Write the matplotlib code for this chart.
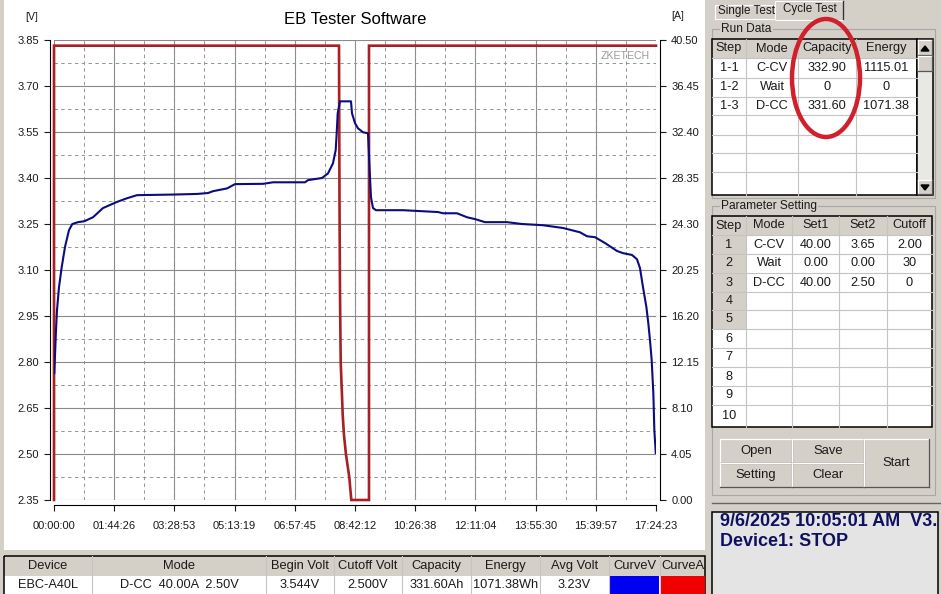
import matplotlib
matplotlib.use("Agg")
import matplotlib.pyplot as plt
from matplotlib.patches import Rectangle, Ellipse
from matplotlib.ticker import AutoMinorLocator

# voltage curve (seconds, volts)
volt_time = [31, 208, 312, 520, 801, 1145, 1561, 1905, 2498, 3154, 4060, 5100, 6558, 7599, 8639,
             12387, 14885, 16030, 16550, 18008, 18840, 21755, 22796, 26127, 26439, 27896, 28521,
             29041, 29322, 29426, 29530, 29770, 30915, 31019, 31331, 31643, 32164, 32684,
             32892, 32996, 33205, 33517, 36327, 39971, 40491, 41948, 42989, 43822, 44863, 47153,
             48714, 50900, 52982, 54751, 55480, 56313, 57353, 58603, 59227, 60164, 60684, 60997,
             61309, 61663, 61861, 62038, 62214, 62385, 62489, 62640]
volt_vals = [2.764, 2.904, 2.969, 3.044, 3.109, 3.175, 3.230, 3.250, 3.256, 3.259, 3.272, 3.302, 3.322, 3.334, 3.344,
             3.346, 3.348, 3.351, 3.357, 3.366, 3.380, 3.381, 3.386, 3.386, 3.393, 3.400, 3.415,
             3.448, 3.491, 3.546, 3.611, 3.650, 3.650, 3.611, 3.579, 3.562, 3.549, 3.546,
             3.403, 3.337, 3.302, 3.295, 3.295, 3.289, 3.285, 3.285, 3.272, 3.266, 3.256, 3.256,
             3.250, 3.246, 3.237, 3.223, 3.210, 3.207, 3.188, 3.162, 3.155, 3.149, 3.135, 3.106,
             3.044, 2.979, 2.927, 2.871, 2.806, 2.699, 2.578, 2.503]

# current curve (seconds, amps)
amp_time = [0, 0, 29666, 29718, 29770, 29843, 29978, 30051, 30186, 30394, 30738, 30946, 32788, 32788, 62663]
amp_vals = [0, 40.0, 40.0, 26.2, 18.2, 12.1, 9.2, 7.5, 5.7, 4.0, 2.0, 0, 0, 40.0, 40.0]

time_labels = ["00:00:00", "01:44:26", "03:28:53", "05:13:19", "06:57:45", "08:42:12",
               "10:26:38", "12:11:04", "13:55:30", "15:39:57", "17:24:23"]
volt_ticks = [2.35, 2.50, 2.65, 2.80, 2.95, 3.10, 3.25, 3.40, 3.55, 3.70, 3.85]
amp_ticks = [0.00, 4.05, 8.10, 12.15, 16.20, 20.25, 24.30, 28.35, 32.40, 36.45, 40.50]

run_header = ["Step", "Mode", "Capacity", "Energy"]
run_rows = [["1-1", "C-CV", "332.90", "1115.01"],
            ["1-2", "Wait", "0", "0"],
            ["1-3", "D-CC", "331.60", "1071.38"]]

param_header = ["Step", "Mode", "Set1", "Set2", "Cutoff"]
param_rows = [["1", "C-CV", "40.00", "3.65", "2.00"],
              ["2", "Wait", "0.00", "0.00", "30"],
              ["3", "D-CC", "40.00", "2.50", "0"],
              ["4"], ["5"], ["6"], ["7"], ["8"], ["9"], ["10"]]

info_header = ["Device", "Mode", "Begin Volt", "Cutoff Volt", "Capacity", "Energy", "Avg Volt", "CurveV", "CurveA"]
info_row = ["EBC-A40L", "D-CC  40.00A  2.50V", "3.544V", "2.500V", "331.60Ah", "1071.38Wh", "3.23V"]

GREY = "#d4d0c8"
CELL = "#c4c4c4"
INK = "#1a1a1a"

plt.rcParams["font.family"] = ["Liberation Sans", "DejaVu Sans"]
plt.rcParams["font.size"] = 8


def px_axes(fig, left, top, right, bottom):
    return fig.add_axes([left / 941, 1 - bottom / 594, (right - left) / 941, (bottom - top) / 594])


def box(ui, x0, y0, x1, y1, face="none", edge="none", lw=0.8, **kw):
    ui.add_patch(Rectangle((x0, y0), x1 - x0, y1 - y0, facecolor=face, edgecolor=edge, linewidth=lw, **kw))


def label(ui, x, y, s, size=9.2, color=INK, ha="center", **kw):
    return ui.text(x, y, s, fontsize=size, color=color, ha=ha, va="center", **kw)


def draw_table(ui, cols, rows_y, header, rows, grey_first=0):
    box(ui, cols[0], rows_y[0], cols[-1], rows_y[-1], face="white")
    box(ui, cols[0], rows_y[0], cols[-1], rows_y[1], face=GREY)
    if grey_first:
        box(ui, cols[0], rows_y[1], cols[1], rows_y[grey_first + 1], face=GREY)
    for x in cols[1:-1]:
        ui.plot([x, x], [rows_y[0], rows_y[-1]], color=CELL, lw=0.8)
    for y in rows_y[1:-1]:
        ui.plot([cols[0], cols[-1]], [y, y], color=CELL, lw=0.8)
    for i, s in enumerate(header):
        label(ui, (cols[i] + cols[i + 1]) / 2, (rows_y[0] + rows_y[1]) / 2, s)
    for r, row in enumerate(rows):
        for i, s in enumerate(row):
            label(ui, (cols[i] + cols[i + 1]) / 2, (rows_y[r + 1] + rows_y[r + 2]) / 2, s)
    box(ui, cols[0], rows_y[0], cols[-1], rows_y[-1], edge="black", lw=1.1)


def button(ui, x0, y0, x1, y1, s):
    box(ui, x0, y0, x1, y1, face=GREY)
    ui.plot([x0, x1], [y0, y0], color="white", lw=0.9)
    ui.plot([x0, x0], [y0, y1], color="white", lw=0.9)
    ui.plot([x0, x1], [y1, y1], color="#555555", lw=0.9)
    ui.plot([x1, x1], [y0, y1], color="#555555", lw=0.9)
    label(ui, (x0 + x1) / 2, (y0 + y1) / 2, s, size=9.4)


def group(ui, x0, y0, x1, y1, s):
    box(ui, x0, y0, x1, y1, edge="#a8a8a8", lw=0.8)
    t = ui.text(x0 + 9, y0, s, fontsize=8.6, color=INK, ha="left", va="center")
    t.set_bbox(dict(facecolor=GREY, edgecolor="none", pad=1))


fig = plt.figure(figsize=(9.41, 5.94), dpi=100, facecolor=GREY)

# window furniture behind the plot
ui = fig.add_axes([0, 0, 1, 1])
ui.set_xlim(0, 941)
ui.set_ylim(594, 0)
ui.axis("off")
box(ui, 4, 0, 705, 550, face="white")

label(ui, 355, 20, "EB Tester Software", size=12, color="black")
label(ui, 32, 17, "[V]", size=7.6)
label(ui, 678, 16, "[A]", size=7.6)
label(ui, 650, 56, "ZKETECH", size=7.6, color="#9a9a9a", ha="right")

# tabs
box(ui, 715, 5, 775, 19, face=GREY, edge="#ffffff")
label(ui, 747, 11, "Single Test", size=8.4)
box(ui, 775, 1, 843, 20, face=GREY, edge="#ffffff")
ui.plot([843, 843], [1, 19], color="#333333", lw=1)
label(ui, 810, 9, "Cycle Test", size=8.4)

group(ui, 712, 29, 935, 198, "Run Data")
draw_table(ui, [712, 746, 798, 856, 917], [39, 58, 78, 97, 115, 135, 153, 172, 195], run_header, run_rows)
box(ui, 917, 39, 933, 195, face="#e8e8e4", edge="black", lw=1.1)
button(ui, 918, 40, 932, 55, "")
button(ui, 918, 56, 932, 71, "")
button(ui, 918, 180, 932, 194, "")
ui.fill([921, 929, 925], [51, 51, 46], color="black")
ui.fill([921, 929, 925], [185, 185, 190], color="black")

group(ui, 712, 206, 935, 495, "Parameter Setting")
draw_table(ui, [712, 746, 792, 839, 887, 932],
           [216, 235, 254, 273, 292, 310, 329, 348, 367, 386, 405, 427],
           param_header, param_rows, grey_first=5)

button(ui, 720, 439, 792, 463, "Open")
button(ui, 720, 463, 792, 487, "Setting")
button(ui, 792, 439, 864, 463, "Save")
button(ui, 792, 463, 864, 487, "Clear")
button(ui, 864, 439, 929, 487, "Start")

ui.plot([712, 941], [503, 503], color="#666666", lw=1)
status = Rectangle((712, 512), 226, 90, facecolor="#e4e4e4", edgecolor="black", linewidth=1.1)
ui.add_patch(status)
t1 = label(ui, 720, 522, "9/6/2025 10:05:01 AM  V3.", size=13, color="#101060", ha="left", weight="bold")
t1.set_clip_path(status)
label(ui, 720, 541, "Device1: STOP", size=13, color="#101060", ha="left", weight="bold")

# bottom device table
cols = [4, 92, 266, 334, 402, 471, 540, 609, 660, 705]
box(ui, 4, 556, 705, 576, face=GREY)
box(ui, 4, 576, 705, 594, face="white")
for x in cols[1:-1]:
    ui.plot([x, x], [556, 594], color=CELL, lw=0.8)
box(ui, 4, 556, 705, 600, edge="black", lw=1.1)
for i, s in enumerate(info_header):
    t = label(ui, (cols[i] + cols[i + 1]) / 2, 566, s, size=9.3)
    t.set_clip_path(Rectangle((cols[i], 556), cols[i + 1] - cols[i], 20, transform=ui.transData))
for i, s in enumerate(info_row):
    label(ui, (cols[i] + cols[i + 1]) / 2, 585, s, size=9.2)
box(ui, 610, 576, 659, 594, face="#0000f0")
box(ui, 661, 576, 705, 594, face="#f00000")

# the hand drawn circle around the capacities
ui.add_patch(Ellipse((826, 78), 68, 118, facecolor="none", edgecolor="#d0202c", linewidth=3.2, zorder=5))

# the chart itself
ax = px_axes(fig, 54, 40, 656, 500)
ax.patch.set_visible(False)
time_ticks = [int(s[:2]) * 3600 + int(s[3:5]) * 60 + int(s[6:]) for s in time_labels]
ax.set_xlim(0, time_ticks[-1])
ax.set_ylim(volt_ticks[0], volt_ticks[-1])
ax.set_xticks(time_ticks)
ax.set_xticklabels(time_labels)
ax.set_yticks(volt_ticks)
ax.set_yticklabels(["%.2f" % v for v in volt_ticks])
ax.xaxis.set_minor_locator(AutoMinorLocator(2))
ax.yaxis.set_minor_locator(AutoMinorLocator(2))
ax.grid(which="major", color="#8a8a8a", lw=0.8)
ax.grid(which="minor", color="#939393", lw=0.7, linestyle=(0, (3.5, 3.5)))
ax.set_axisbelow(True)
ax.tick_params(which="minor", length=0)
ax.tick_params(axis="x", which="major", length=4.3, width=0.8, pad=7, labelsize=8, colors=INK)
ax.tick_params(axis="y", which="major", length=4, width=0.8, pad=4, labelsize=8, colors=INK)
ax.spines["top"].set_visible(False)
ax.spines["right"].set_visible(False)
ax.spines["left"].set_position(("outward", 2.9))
ax.spines["bottom"].set_position(("outward", 3.6))

ax2 = ax.twinx()
ax2.plot(amp_time, amp_vals, color="#a82024", lw=1.9, solid_joinstyle="miter", clip_on=False)
ax2.set_ylim(amp_ticks[0], amp_ticks[-1])
ax2.set_yticks(amp_ticks)
ax2.set_yticklabels(["%.2f" % v for v in amp_ticks])
ax2.tick_params(axis="y", length=4, width=0.8, pad=4, labelsize=8, colors=INK)
ax2.spines["top"].set_visible(False)
ax2.spines["left"].set_visible(False)
ax2.spines["bottom"].set_visible(False)
ax2.spines["right"].set_position(("outward", 2.9))

# the voltage trace sits over the current trace in the original
ax3 = ax.twinx()
ax3.plot(volt_time, volt_vals, color="#0c0c80", lw=1.5, solid_joinstyle="round")
ax3.set_ylim(volt_ticks[0], volt_ticks[-1])
ax3.axis("off")

fig.savefig("out.png", dpi=100)
